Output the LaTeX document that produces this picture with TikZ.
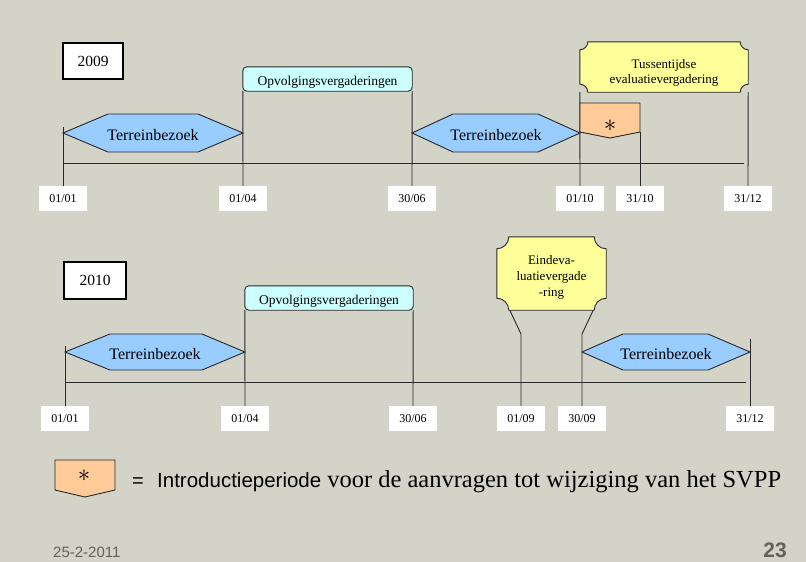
\documentclass[tikz,border=0pt]{standalone}
\usepackage{fontspec}
\setmainfont{Liberation Serif}
\setsansfont{Liberation Sans}
\definecolor{bgc}{RGB}{212,211,200}
\definecolor{linec}{RGB}{40,40,40}
\definecolor{hexblue}{RGB}{153,204,255}
\definecolor{cyanbox}{RGB}{204,255,255}
\definecolor{yelbox}{RGB}{255,255,153}
\definecolor{orabox}{RGB}{255,204,153}
\definecolor{footc}{RGB}{100,96,90}
\tikzset{
  tl/.style={draw=linec, line width=0.9pt},
  axisline/.style={draw=linec, line width=0.9pt},
  datebox/.style={fill=white, minimum width=48pt, minimum height=25pt, inner sep=0pt, font=\fontsize{12}{14}\selectfont},
  yearbox/.style={draw=black, fill=white, line width=2pt, inner sep=0pt, font=\fontsize{15.5}{18}\selectfont},
  opvbox/.style={draw=linec, fill=cyanbox, line width=0.9pt, rounded corners=4pt, minimum width=169pt, minimum height=24pt, inner sep=0pt},
  smalltxt/.style={font=\fontsize{13.5}{15}\selectfont, inner sep=0pt},
  meettxt/.style={font=\fontsize{13}{15}\selectfont, inner sep=0pt, align=center},
  hexa/.style={draw=linec, fill=hexblue, line width=0.9pt},
  hextxt/.style={font=\fontsize{16}{18}\selectfont, inner sep=0pt},
  plq/.style={draw=linec, fill=yelbox, line width=0.9pt},
  orash/.style={draw=linec, fill=orabox, line width=0.9pt},
  asttxt/.style={font=\fontsize{24}{24}\selectfont, inner sep=0pt},
  ghost/.style={draw=none, inner sep=0pt},
}
\begin{document}
\begin{tikzpicture}[x=1pt,y=1pt]
\fill[bgc] (0,0) rectangle (806,-562);
\useasboundingbox (0,0) rectangle (806,-562);

% ================= 2009 =================
\node[yearbox, minimum width=60pt, minimum height=36pt] (y09) at (93,-61) {2009};

% date labels
\node[datebox] (d01) at (63,-198.5) {01/01};
\node[datebox] (d02) at (243,-198.5) {01/04};
\node[datebox] (d03) at (412,-198.5) {30/06};
\node[datebox] (d04) at (580,-198.5) {01/10};
\node[datebox] (d05) at (640,-198.5) {31/10};
\node[datebox] (d06) at (748,-198.5) {31/12};

% boxes (shape holders)
\node[ghost, minimum width=169pt, minimum height=24pt] (opv09) at (327.5,-79) {};
\node[ghost, minimum width=168pt, minimum height=50pt] (tus) at (664,-67) {};
\coordinate (ora09tr) at (640,-132);

% vertical lines
\draw[tl] (d01.north) -- (63,-127);
\draw[tl] (d02.north) -- (opv09.south west);
\draw[tl] (d03.north) -- (opv09.south east);
\draw[tl] (d04.north) -- (tus.south west);
\draw[tl] (d05.north) -- (ora09tr);
\draw[tl] (d06.north) -- (tus.south east);

% axis
\draw[axisline] (63,-163) -- (744,-163);

% Opvolgingsvergaderingen box
\draw[opvbox] (opv09.south west) rectangle (opv09.north east);
\node[smalltxt, anchor=base] (opv09t) at (327.5,-85.5) {Opvolgingsvergaderingen};

% Terreinbezoek hexagons
\draw[hexa] (63,-133) -- (108,-114) -- (198,-114) -- (243,-133) -- (198,-152) -- (108,-152) -- cycle;
\node[hextxt, anchor=base] (t09a) at (153,-140) {Terreinbezoek};
\draw[hexa] (412,-133) -- (453,-114) -- (538,-114) -- (580,-133) -- (538,-152) -- (453,-152) -- cycle;
\node[hextxt, anchor=base] (t09b) at (496,-140) {Terreinbezoek};

% Tussentijdse plaque
\draw[plq] ([xshift=8pt]tus.north west) -- ([xshift=-8pt]tus.north east)
  arc[start angle=180, end angle=270, radius=8pt] -- ([yshift=8pt]tus.south east)
  arc[start angle=90, end angle=180, radius=8pt] -- ([xshift=8pt]tus.south west)
  arc[start angle=0, end angle=90, radius=8pt] -- ([yshift=-8pt]tus.north west)
  arc[start angle=270, end angle=360, radius=8pt] -- cycle;
\node[meettxt] (tust) at (664,-72.5) {Tussentijdse\\evaluatievergadering};

% orange introduction period
\draw[orash] (580,-103) -- (640,-103) -- (ora09tr) -- (610,-138) -- (580,-132) -- cycle;
\node[asttxt] (ast09) at (610,-126) {$\ast$};

% ================= 2010 =================
\node[yearbox, minimum width=62pt, minimum height=37pt] (y10) at (95,-280.5) {2010};

\node[datebox] (d11) at (65,-418.5) {01/01};
\node[datebox] (d12) at (245,-418.5) {01/04};
\node[datebox] (d13) at (413,-418.5) {30/06};
\node[datebox] (d14) at (521,-418.5) {01/09};
\node[datebox] (d15) at (582,-418.5) {30/09};
\node[datebox] (d16) at (750,-418.5) {31/12};

\node[ghost, minimum width=168pt, minimum height=24pt] (opv10) at (329,-298) {};
\node[ghost, minimum width=109pt, minimum height=73pt] (eind) at (551.5,-273.5) {};
\coordinate (lkL) at (521,-334);
\coordinate (lkR) at (582,-334);

\draw[tl] (d11.north) -- (65,-346);
\draw[tl] (d12.north) -- (opv10.south west);
\draw[tl] (d13.north) -- (opv10.south east);
\draw[tl] (d14.north) -- (lkL) -- ([xshift=13pt]eind.south west);
\draw[tl] (d15.north) -- (lkR) -- ([xshift=-13pt]eind.south east);
\draw[tl] (d16.north) -- (750,-339);

\draw[axisline] (65,-382) -- (746,-382);

\draw[opvbox] (opv10.south west) rectangle (opv10.north east);
\node[smalltxt, anchor=base] (opv10t) at (329,-304.5) {Opvolgingsvergaderingen};

\draw[hexa] (lkR) ++(0,-18) -- (623,-334) -- (708,-334) -- (750,-352) -- (708,-370) -- (623,-370) -- cycle;
\draw[hexa] (65,-352) -- (110,-334) -- (202,-334) -- (245,-352) -- (202,-370) -- (110,-370) -- cycle;
\node[hextxt, anchor=base] (t10a) at (155,-359) {Terreinbezoek};
\node[hextxt, anchor=base] (t10b) at (666,-359) {Terreinbezoek};

\draw[plq] ([xshift=12pt]eind.north west) -- ([xshift=-12pt]eind.north east)
  arc[start angle=180, end angle=270, radius=12pt] -- ([yshift=12pt]eind.south east)
  arc[start angle=90, end angle=180, radius=12pt] -- ([xshift=12pt]eind.south west)
  arc[start angle=0, end angle=90, radius=12pt] -- ([yshift=-12pt]eind.north west)
  arc[start angle=270, end angle=360, radius=12pt] -- cycle;
\node[meettxt, font=\fontsize{13}{16}\selectfont] (eindt) at (551.5,-277.5) {Eindeva-\\luatievergade\\-ring};

% ================= legend =================
\draw[orash] (55,-460) -- (115,-460) -- (115,-490) -- (85,-497) -- (55,-490) -- cycle;
\node[asttxt] (astleg) at (84,-476) {$\ast$};
\node[anchor=base, inner sep=0pt, font=\sffamily\fontsize{20}{24}\selectfont] (eq) at (138,-487) {=};
\node[anchor=base west, inner sep=0pt] (legt) at (157,-487)
  {{\sffamily\fontsize{20.5}{24}\selectfont Introductieperiode}\hspace{6pt}{\rmfamily\fontsize{24.5}{28}\selectfont voor de aanvragen tot wijziging van het SVPP}};

% ================= footer =================
\node[anchor=base west, inner sep=0pt, text=footc, font=\sffamily\fontsize{15}{18}\selectfont] (datef) at (53,-557) {25-2-2011};
\node[anchor=base east, inner sep=0pt, text=footc, font=\sffamily\bfseries\fontsize{21}{24}\selectfont] (pagef) at (787,-557) {23};
\end{tikzpicture}
\end{document}
